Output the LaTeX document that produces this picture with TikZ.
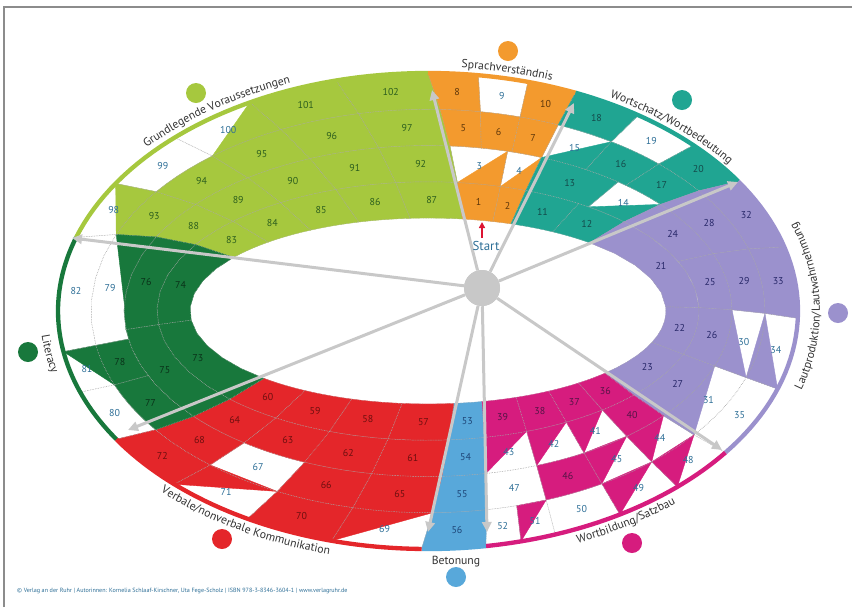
\documentclass[tikz,border=0pt]{standalone}
\usepackage{fontspec}
\setmainfont{PT Sans}
\usetikzlibrary{arrows.meta, decorations.text}

\definecolor{lgreen}{RGB}{166,200,62}
\definecolor{lgreentext}{RGB}{45,95,30}
\definecolor{sorange}{RGB}{243,154,46}
\definecolor{sorangetext}{RGB}{95,55,10}
\definecolor{steal}{RGB}{32,165,146}
\definecolor{stealtext}{RGB}{20,75,75}
\definecolor{spurple}{RGB}{155,145,205}
\definecolor{spurpletext}{RGB}{40,40,105}
\definecolor{smagenta}{RGB}{214,28,126}
\definecolor{smagentatext}{RGB}{85,20,70}
\definecolor{sblue}{RGB}{88,168,218}
\definecolor{sbluetext}{RGB}{30,70,120}
\definecolor{sred}{RGB}{228,38,42}
\definecolor{sredtext}{RGB}{110,15,15}
\definecolor{dgreen}{RGB}{24,120,60}
\definecolor{dgreentext}{RGB}{10,50,25}
\definecolor{numblue}{RGB}{45,110,150}
\definecolor{spokegrey}{RGB}{200,200,200}
\definecolor{labelgrey}{RGB}{50,50,50}
\definecolor{framegrey}{RGB}{140,140,140}
\definecolor{startred}{RGB}{220,20,50}

\newcommand\labelfont{\fontsize{10}{12}\selectfont\color{labelgrey}}

% one coloured sector: inner/outer angles of both borders, fill, number colour, cells
\newcommand\drawsector[7]{%
  \def\tAi{#1}\def\tBi{#2}\def\tAo{#3}\def\tBo{#4}%
  % fills first
  \foreach \ua/\ub/\ra/\rb/\m/\lbl in {#7} {
    \coordinate (il) at ({ringx(\ua,\ra)},{ringy(\ua,\ra)});
    \coordinate (ir) at ({ringx(\ub,\ra)},{ringy(\ub,\ra)});
    \coordinate (or) at ({ringx(\ub,\rb)},{ringy(\ub,\rb)});
    \ifcase\m
    \or
      \fill[#5, draw=#5, line width=0.3pt]
        plot[domain=\ua:\ub, samples=6, variable=\s] ({ringx(\s,\ra)},{ringy(\s,\ra)})
        -- plot[domain=\ub:\ua, samples=6, variable=\s] ({ringx(\s,\rb)},{ringy(\s,\rb)}) -- cycle;
    \or
      \fill[#5, draw=#5, line width=0.3pt] (il) -- (ir) -- (or) -- cycle;
    \fi
  }%
  % then dotted grid and numbers on top
  \foreach \ua/\ub/\ra/\rb/\m/\lbl in {#7} {
    \draw[celledge]
      plot[domain=\ua:\ub, samples=6, variable=\s] ({ringx(\s,\ra)},{ringy(\s,\ra)})
      -- plot[domain=\ub:\ua, samples=6, variable=\s] ({ringx(\s,\rb)},{ringy(\s,\rb)}) -- cycle;
    \ifnum\m=1 \def\numcol{#6}\else\def\numcol{numblue}\fi
    \node[num, text=\numcol] (c\lbl) at ({ringx((\ua+\ub)/2,(\ra+\rb)/2)},{ringy((\ua+\ub)/2,(\ra+\rb)/2)}) {\lbl};
  }%
}

% curved caption along the rim
\newcommand\rimlabel[4]{%
  \path[decorate, decoration={text along path, text align=center, text={|\labelfont|#4}}]
    plot[domain=#2:#3, samples=90, variable=\s] ({428+(370+#1)*cos(\s)},{311+(238+#1)*sin(\s)});%
}

\tikzset{
  celledge/.style={densely dotted, black!35, line width=0.4pt},
  num/.style={font=\fontsize{8.5}{9}\selectfont, inner sep=0pt},
  rim/.style={line width=1.3mm},
  spoke/.style={draw=spokegrey, line width=0.9mm, -{Triangle[length=3mm,width=2.8mm]}},
  dot/.style={circle, minimum size=6mm, inner sep=0pt},
  rimtext/.style={font=\labelfont, inner sep=0pt},
}

\begin{document}
\begin{tikzpicture}[x=0.3mm, y=-0.3mm,
  declare function={
    ringt(\su,\sr)=(1-\sr)*(\tAi+\su*(\tBi-\tAi))+\sr*(\tAo+\su*(\tBo-\tAo));
    ringx(\su,\sr)=428+(238+132*\sr)*cos(ringt(\su,\sr));
    ringy(\su,\sr)=311+(93+145*\sr)*sin(ringt(\su,\sr));
  }]
  \useasboundingbox (0,0) rectangle (852,607);
  \draw[framegrey, line width=0.45mm] (4,607) -- (4,7) -- (852,7);

  % sectors (0 = open, 1 = done, 2 = half done)
  \drawsector{215.2}{278.3}{198}{270}{lgreen}{lgreentext}{
    0/.2/0/.25/1/83, .2/.4/0/.25/1/84, .4/.6/0/.25/1/85, .6/.8/0/.25/1/86, .8/1/0/.25/1/87,
    0/.2/.25/.5/1/88, .2/.4/.25/.5/1/89, .4/.6/.25/.5/1/90, .6/.8/.25/.5/1/91, .8/1/.25/.5/1/92,
    0/.2/.5/.75/1/93, .2/.4/.5/.75/1/94, .4/.6/.5/.75/1/95, .6/.8/.5/.75/1/96, .8/1/.5/.75/1/97,
    0/.2/.75/1/2/98, .2/.4/.75/1/0/99, .4/.6/.75/1/2/100, .6/.8/.75/1/1/101, .8/1/.75/1/1/102}
  \drawsector{278.3}{290.4}{270}{293.5}{sorange}{sorangetext}{
    0/.62/0/.25/1/1, .62/1/0/.25/1/2, 0/.62/.25/.5/2/3, .62/1/.25/.5/2/4,
    0/.333/.5/.75/1/5, .333/.667/.5/.75/1/6, .667/1/.5/.75/1/7,
    0/.333/.75/1/1/8, .333/.667/.75/1/0/9, .667/1/.75/1/1/10}
  \drawsector{290.4}{312.8}{293.5}{327}{steal}{stealtext}{
    0/.5/0/.25/1/11, .5/1/0/.25/1/12, 0/.6/.25/.5/1/13, .6/1/.25/.5/2/14,
    0/.333/.5/.75/2/15, .333/.667/.5/.75/1/16, .667/1/.5/.75/1/17,
    0/.333/.75/1/1/18, .333/.667/.75/1/0/19, .667/1/.75/1/1/20}
  \drawsector{312.8}{402}{327}{396.5}{spurple}{spurpletext}{
    0/.5/0/.25/1/21, .5/.75/0/.25/1/22, .75/1/0/.25/1/23,
    0/.25/.25/.5/1/24, .25/.5/.25/.5/1/25, .5/.75/.25/.5/1/26, .75/1/.25/.5/1/27,
    0/.25/.5/.75/1/28, .25/.5/.5/.75/1/29, .5/.75/.5/.75/2/30, .75/1/.5/.75/2/31,
    0/.25/.75/1/1/32, .25/.5/.75/1/1/33, .5/.75/.75/1/2/34, .75/1/.75/1/0/35}
  \drawsector{42}{77}{36.5}{81}{smagenta}{smagentatext}{
    0/.25/0/.25/1/36, .25/.5/0/.25/1/37, .5/.75/0/.25/1/38, .75/1/0/.25/1/39,
    0/.25/.25/.5/1/40, .25/.5/.25/.5/2/41, .5/.75/.25/.5/2/42, .75/1/.25/.5/2/43,
    0/.25/.5/.75/2/44, .25/.5/.5/.75/2/45, .5/.75/.5/.75/1/46, .75/1/.5/.75/0/47,
    0/.25/.75/1/2/48, .25/.5/.75/1/2/49, .5/.75/.75/1/0/50, .75/.875/.75/1/2/51, .875/1/.75/1/0/52}
  \drawsector{77}{83.8}{81}{91}{sblue}{sbluetext}{
    0/1/0/.25/1/53, 0/1/.25/.5/1/54, 0/1/.5/.75/1/55, 0/1/.75/1/1/56}
  \drawsector{83.8}{133.6}{91}{147.4}{sred}{sredtext}{
    0/.25/0/.25/1/57, .25/.5/0/.25/1/58, .5/.75/0/.25/1/59, .75/1/0/.25/1/60,
    0/.25/.25/.5/1/61, .25/.5/.25/.5/1/62, .5/.75/.25/.5/1/63, .75/1/.25/.5/1/64,
    0/.25/.5/.75/1/65, .25/.5/.5/.75/1/66, .5/.75/.5/.75/0/67, .75/1/.5/.75/1/68,
    0/.25/.75/1/2/69, .25/.5/.75/1/1/70, .5/.75/.75/1/2/71, .75/1/.75/1/1/72}
  \drawsector{133.6}{215.2}{147.4}{198}{dgreen}{dgreentext}{
    0/.5/0/.25/1/73, .5/1/0/.25/1/74, 0/.5/.25/.5/1/75, .5/1/.25/.5/1/76,
    0/.25/.5/.75/1/77, .25/.45/.5/.75/1/78, .45/1/.5/.75/2/79,
    0/.25/.75/1/0/80, .25/.45/.75/1/2/81, .45/1/.75/1/0/82}

  % coloured rim
  \foreach \ta/\tb/\col in {198/270/lgreen, 270/293.5/sorange, 293.5/327/steal, 327/396.5/spurple,
      36.5/81/smagenta, 81/91/sblue, 91/147.4/sred, 147.4/198/dgreen}
    \draw[rim, \col] plot[domain=\ta:\tb, samples=40, variable=\s] ({428+370*cos(\s)},{311+238*sin(\s)});

  % hub and spokes
  \node[circle, fill=spokegrey, minimum size=10.8mm, inner sep=0pt] (hub) at (482,288) {};
  \coordinate (tip1) at (72,238);
  \coordinate (tip2) at (432,90);
  \coordinate (tip3) at (574,103);
  \coordinate (tip4) at (738,182);
  \coordinate (tip5) at (722,450);
  \coordinate (tip6) at (487,532);
  \coordinate (tip7) at (428,532);
  \coordinate (tip8) at (128,430);
  \foreach \i in {1,...,8}
    \draw[spoke] (hub) -- (tip\i);
  \node[circle, fill=spokegrey, minimum size=10.8mm, inner sep=0pt] at (hub) {};

  % start mark
  \node[font=\fontsize{11}{12}\selectfont, text=numblue, inner sep=0pt] (start) at (486,246) {Start};
  \draw[startred, line width=0.5mm, -{Triangle[length=1.8mm,width=1.8mm]}] (482,238) -- (482,222);

  % captions
  \rimlabel{7}{202}{264}{Grundlegende Voraussetzungen}
  \rimlabel{6}{264}{301}{Sprachverständnis}
  \rimlabel{6}{291}{333}{Wortschatz/Wortbedeutung}
  \rimlabel{22}{42}{-44}{Lautproduktion/Lautwahrnehmung}
  \rimlabel{14}{78}{37}{Wortbildung/Satzbau}
  \rimlabel{14}{150}{92}{Verbale/nonverbale Kommunikation}
  \rimlabel{18}{195}{147}{Literacy}
  \node[rimtext] (betonung) at (456,562) {Betonung};

  % category dots
  \node[dot, fill=lgreen] (dotA) at (196,93) {};
  \node[dot, fill=sorange] (dotB) at (508,51) {};
  \node[dot, fill=steal] (dotC) at (682,100) {};
  \node[dot, fill=spurple] (dotD) at (838,313) {};
  \node[dot, fill=smagenta] (dotE) at (632,543) {};
  \node[dot, fill=sblue] (dotF) at (456,577) {};
  \node[dot, fill=sred] (dotG) at (222,539) {};
  \node[dot, fill=dgreen] (dotH) at (28,352) {};

  \node[anchor=west, inner sep=0pt, text=numblue, font=\fontsize{5.2}{6}\selectfont] (imprint) at (17,591)
    {© Verlag an der Ruhr | Autorinnen: Kornelia Schlaaf-Kirschner, Uta Fege-Scholz | ISBN 978-3-8346-3604-1 | www.verlagruhr.de};
\end{tikzpicture}
\end{document}
